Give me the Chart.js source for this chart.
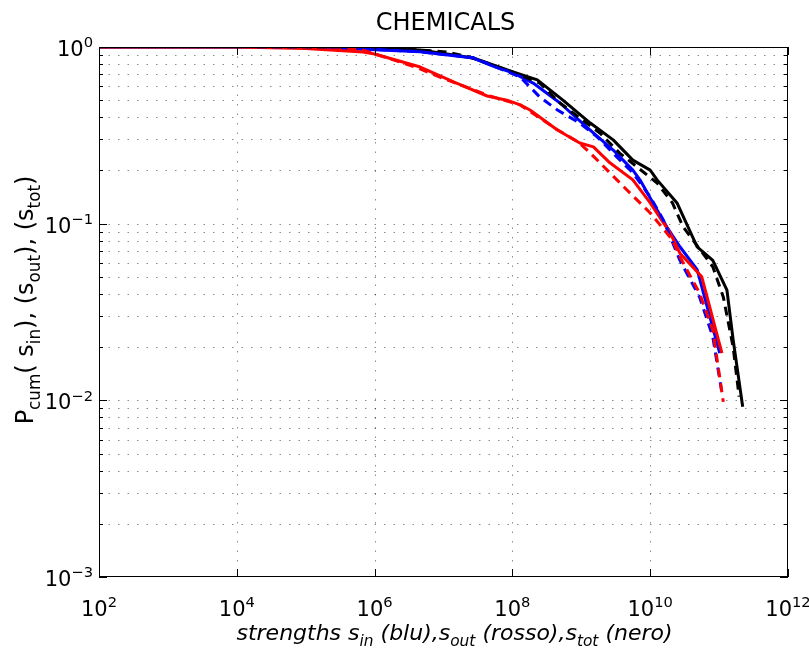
<!DOCTYPE html>
<html>
<head>
<meta charset="utf-8">
<script src="https://cdn.jsdelivr.net/npm/chart.js@4/dist/chart.umd.min.js"></script>
<style>
  html, body { margin: 0; padding: 0; background: #fff; }
  canvas { display: block; }
</style>
</head>
<body>
<canvas id="c" width="809" height="652"></canvas>
<script>
const chartTitle = 'CHEMICALS';

// decade tick labels: base "10" with an exponent
const xTickValues = [1e2, 1e4, 1e6, 1e8, 1e10, 1e12];
const xTickExponents = ['2', '4', '6', '8', '10', '12'];
const yTickValues = [1, 1e-1, 1e-2, 1e-3];
const yTickExponents = ['0', '\u22121', '\u22122', '\u22123'];

// s_in (blu) — solid
const inSolidS = [1e2, 1e5, 1e6, 4.6e6, 2.7e7, 5.2e7, 1.02e8, 2e8, 4.9e8, 1.2e9, 2.9e9, 5.6e9, 7.1e9, 1.1e10, 1.74e10, 2.7e10, 4.8e10, 1.02e11];
const inSolidP = [1, 1, 0.965, 0.94, 0.866, 0.78, 0.713, 0.625, 0.482, 0.352, 0.261, 0.201, 0.177, 0.131, 0.096, 0.074, 0.055, 0.0185];
// s_in (blu) — dashed
const inDashedS = [2e4, 3e5, 1e6, 4.6e6, 2.7e7, 1.3e8, 2.5e8, 4.5e8, 9.5e8, 1.7e9, 3.3e9, 5.6e9, 1e10, 1.55e10, 2.7e10, 5.2e10, 8.1e10, 1.1e11];
const inDashedP = [1, 1, 0.97, 0.94, 0.87, 0.676, 0.521, 0.44, 0.371, 0.31, 0.238, 0.194, 0.142, 0.105, 0.062, 0.0385, 0.0229, 0.011];

// s_out (rosso) — solid
const outSolidS = [1e2, 1e4, 1e5, 6.8e5, 1e6, 4.6e6, 1.4e7, 4.3e7, 8.3e7, 1.3e8, 1.8e8, 4.5e8, 9.5e8, 1.5e9, 2.6e9, 5.6e9, 1e10, 1.95e10, 2.7e10, 5.6e10, 1.1e11];
const outSolidP = [1, 1, 0.98, 0.937, 0.913, 0.77, 0.634, 0.528, 0.5, 0.47, 0.44, 0.339, 0.286, 0.272, 0.221, 0.177, 0.131, 0.0886, 0.068, 0.05, 0.0185];
// s_out (rosso) — dashed
const outDashedS = [2e4, 3e5, 6.8e5, 3.9e6, 9.5e6, 4.7e7, 1.3e8, 4.5e8, 9e8, 1.35e9, 4.6e9, 1e10, 2.1e10, 2.7e10, 5.2e10, 8.1e10, 1.15e11];
const outDashedP = [1, 1, 0.96, 0.77, 0.668, 0.528, 0.47, 0.34, 0.29, 0.251, 0.155, 0.115, 0.081, 0.065, 0.0405, 0.025, 0.0098];

// s_tot (nero) — solid
const totSolidS = [1e2, 1e5, 1e6, 4.6e6, 2.7e7, 1.02e8, 2.3e8, 5.4e8, 1.35e9, 2.9e9, 5.6e9, 1e10, 1.26e10, 2.45e10, 4.8e10, 8.1e10, 1.3e11, 1.6e11, 2.2e11];
const totSolidP = [1, 1, 0.98, 0.962, 0.866, 0.722, 0.651, 0.5, 0.371, 0.298, 0.229, 0.201, 0.177, 0.131, 0.074, 0.062, 0.042, 0.022, 0.0092];
// s_tot (nero) — dashed
const totDashedS = [2e4, 1e6, 4.6e6, 1.1e7, 2.4e7, 1.02e8, 2.5e8, 4.9e8, 1.86e9, 3.6e9, 1.26e10, 2.1e10, 3e10, 8.1e10, 1.15e11, 1.6e11, 1.95e11];
const totDashedP = [1, 0.99, 0.962, 0.937, 0.878, 0.72, 0.625, 0.482, 0.326, 0.251, 0.17, 0.131, 0.096, 0.057, 0.0385, 0.02, 0.0105];

const FONT = '"DejaVu Sans", "Liberation Sans", sans-serif';

function pairs(xs, ys) {
  return xs.map((x, i) => ({ x: x, y: ys[i] }));
}

function series(xs, ys, color, dashed, order) {
  return {
    data: pairs(xs, ys),
    borderColor: color,
    borderWidth: 3,
    borderDash: dashed ? [9, 6] : [],
    borderJoinStyle: 'round',
    pointRadius: 0,
    tension: 0,
    fill: false,
    order: order
  };
}

// text with sub/superscript pieces; segs = [{t, s: 'sub' | 'sup' | undefined}]
function richWidth(ctx, segs, size, italic) {
  let w = 0;
  for (const seg of segs) {
    const sz = seg.s ? size * 0.7 : size;
    ctx.font = (italic ? 'italic ' : '') + sz + 'px ' + FONT;
    w += ctx.measureText(seg.t).width;
  }
  return w;
}

function drawRich(ctx, segs, x, y, align, size, italic) {
  const w = richWidth(ctx, segs, size, italic);
  let cx = align === 'center' ? x - w / 2 : (align === 'right' ? x - w : x);
  ctx.textAlign = 'left';
  ctx.textBaseline = 'alphabetic';
  for (const seg of segs) {
    const sz = seg.s ? size * 0.7 : size;
    ctx.font = (italic ? 'italic ' : '') + sz + 'px ' + FONT;
    let dy = 0;
    if (seg.s === 'sub') dy = size * 0.28;
    if (seg.s === 'sup') dy = -size * 0.42;
    ctx.fillText(seg.t, cx, y + dy);
    cx += ctx.measureText(seg.t).width;
  }
}

const decorations = {
  id: 'decorations',
  beforeDraw(chart) {
    const ctx = chart.ctx;
    ctx.save();
    ctx.fillStyle = '#fff';
    ctx.fillRect(0, 0, chart.width, chart.height);
    ctx.restore();
  },
  beforeDatasetsDraw(chart) {
    const ctx = chart.ctx;
    const a = chart.chartArea;
    const xs = chart.scales.x, ys = chart.scales.y;
    ctx.save();
    ctx.strokeStyle = 'rgba(0,0,0,0.45)';
    ctx.lineWidth = 1;
    ctx.setLineDash([1.5, 8]);
    // horizontal dotted lines at every decade subdivision
    for (let k = -3; k < 0; k++) {
      for (let m = 1; m <= 9; m++) {
        const v = m * Math.pow(10, k);
        const py = Math.round(ys.getPixelForValue(v)) + 0.5;
        if (py <= a.top + 1 || py >= a.bottom - 1) continue;
        ctx.beginPath();
        ctx.moveTo(a.left, py);
        ctx.lineTo(a.right, py);
        ctx.stroke();
      }
    }
    // vertical dotted lines at labelled decades
    for (const v of xTickValues) {
      const px = Math.round(xs.getPixelForValue(v)) + 0.5;
      if (px <= a.left + 1 || px >= a.right - 1) continue;
      ctx.beginPath();
      ctx.moveTo(px, a.top);
      ctx.lineTo(px, a.bottom);
      ctx.stroke();
    }
    ctx.restore();
  },
  afterDatasetsDraw(chart) {
    const ctx = chart.ctx;
    const a = chart.chartArea;
    const xs = chart.scales.x, ys = chart.scales.y;
    ctx.save();
    ctx.setLineDash([]);
    ctx.strokeStyle = '#000';
    ctx.lineWidth = 1;
    // frame
    ctx.strokeRect(Math.round(a.left) + 0.5, Math.round(a.top) + 0.5,
                   Math.round(a.right - a.left) - 1, Math.round(a.bottom - a.top) - 1);
    // y ticks (major + minor), inward on both sides
    for (let k = -3; k <= 0; k++) {
      for (let m = 1; m <= 9; m++) {
        const v = m * Math.pow(10, k);
        if (v > 1) break;
        const py = Math.round(ys.getPixelForValue(v)) + 0.5;
        const len = m === 1 ? 8 : 4;
        ctx.beginPath();
        ctx.moveTo(a.left, py); ctx.lineTo(a.left + len, py);
        ctx.moveTo(a.right, py); ctx.lineTo(a.right - len, py);
        ctx.stroke();
      }
    }
    // x ticks at labelled decades
    for (const v of xTickValues) {
      const px = Math.round(xs.getPixelForValue(v)) + 0.5;
      ctx.beginPath();
      ctx.moveTo(px, a.bottom); ctx.lineTo(px, a.bottom - 8);
      ctx.moveTo(px, a.top); ctx.lineTo(px, a.top + 8);
      ctx.stroke();
    }

    ctx.fillStyle = '#000';
    // x tick labels
    xTickValues.forEach((v, i) => {
      const px = xs.getPixelForValue(v);
      drawRich(ctx, [{ t: '10' }, { t: xTickExponents[i], s: 'sup' }], px, a.bottom + 39, 'center', 21, false);
    });
    // y tick labels
    yTickValues.forEach((v, i) => {
      const py = ys.getPixelForValue(v);
      drawRich(ctx, [{ t: '10' }, { t: yTickExponents[i], s: 'sup' }], a.left - 6, py + 9, 'right', 21, false);
    });

    // title
    ctx.font = '24px ' + FONT;
    ctx.textAlign = 'center';
    ctx.textBaseline = 'alphabetic';
    ctx.fillText(chartTitle, (a.left + a.right) / 2 + 2, 30);

    // x axis title
    drawRich(ctx, [
      { t: 'strengths s' }, { t: 'in', s: 'sub' },
      { t: ' (blu),s' }, { t: 'out', s: 'sub' },
      { t: ' (rosso),s' }, { t: 'tot', s: 'sub' },
      { t: ' (nero)' }
    ], (a.left + a.right) / 2 + 11, 640, 'center', 22, true);

    // y axis title
    ctx.save();
    ctx.translate(33, (a.top + a.bottom) / 2 - 12);
    ctx.rotate(-Math.PI / 2);
    drawRich(ctx, [
      { t: 'P' }, { t: 'cum', s: 'sub' },
      { t: '( s' }, { t: 'in', s: 'sub' },
      { t: '), (s' }, { t: 'out', s: 'sub' },
      { t: '), (s' }, { t: 'tot', s: 'sub' },
      { t: ')' }
    ], 0, 0, 'center', 24, false);
    ctx.restore();

    ctx.restore();
  }
};

new Chart(document.getElementById('c'), {
  type: 'line',
  data: {
    datasets: [
      series(totSolidS, totSolidP, '#000000', false, 6),
      series(inSolidS, inSolidP, '#0000ff', false, 5),
      series(outSolidS, outSolidP, '#ff0000', false, 4),
      series(totDashedS, totDashedP, '#000000', true, 3),
      series(inDashedS, inDashedP, '#0000ff', true, 2),
      series(outDashedS, outDashedP, '#ff0000', true, 1)
    ]
  },
  options: {
    responsive: false,
    animation: false,
    layout: { padding: { left: 99, right: 21, top: 47, bottom: 75 } },
    plugins: { legend: { display: false }, title: { display: false }, tooltip: { enabled: false } },
    scales: {
      x: { type: 'logarithmic', min: 1e2, max: 1e12, display: false },
      y: { type: 'logarithmic', min: 1e-3, max: 1, display: false }
    }
  },
  plugins: [decorations]
});
</script>
</body>
</html>
